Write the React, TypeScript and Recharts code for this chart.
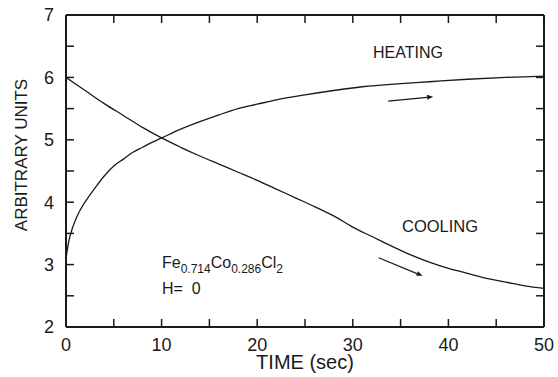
import { LineChart, Line, XAxis, YAxis, ReferenceLine } from "recharts";

const heatingTime = [0, 0.3, 0.6, 1, 1.5, 2.2, 3, 4, 5, 6, 7, 8, 9, 10, 12, 14, 16, 18, 20, 22, 25, 28, 31, 35, 38, 42, 46, 50];
const heatingValue = [3.1, 3.38, 3.55, 3.72, 3.88, 4.05, 4.22, 4.42, 4.58, 4.69, 4.8, 4.88, 4.96, 5.03, 5.17, 5.29, 5.4, 5.5, 5.57, 5.64, 5.72, 5.79, 5.85, 5.9, 5.93, 5.97, 6.0, 6.02];

const coolingTime = [0, 2, 4, 6, 8, 10, 12, 14, 16, 18, 20, 22, 24, 26, 28, 30, 32, 34, 36, 38, 40, 42, 44, 46, 48, 50];
const coolingValue = [6.0, 5.79, 5.58, 5.39, 5.2, 5.03, 4.88, 4.74, 4.61, 4.48, 4.35, 4.21, 4.07, 3.93, 3.78, 3.6, 3.45, 3.3, 3.16, 3.04, 2.94, 2.86, 2.78, 2.72, 2.66, 2.62];

const heatingArrow = [{ x: 33.7, y: 5.62 }, { x: 38.4, y: 5.69 }];
const coolingArrow = [{ x: 32.7, y: 3.11 }, { x: 37.3, y: 2.82 }];

const xTicks = [0, 5, 10, 15, 20, 25, 30, 35, 40, 45, 50];
const yTicks = [2, 2.5, 3, 3.5, 4, 4.5, 5, 5.5, 6, 6.5, 7];

const heating = heatingTime.map((t, i) => ({ t, v: heatingValue[i] }));
const cooling = coolingTime.map((t, i) => ({ t, v: coolingValue[i] }));

const FONT = "'Liberation Sans', Arial, sans-serif";
const INK = "#1a1a1a";

// plot box that the axis sizes below produce
const LEFT = 66;
const RIGHT = 544;
const TOP = 15;
const BOTTOM = 327;
const TICK_LEN = 8;
const sx = (t: number) => LEFT + ((RIGHT - LEFT) * t) / 50;
const sy = (v: number) => BOTTOM - ((BOTTOM - TOP) * (v - 2)) / 5;

const arrowShape = (props: any) => {
  const { x1, y1, x2, y2 } = props;
  const ang = Math.atan2(y2 - y1, x2 - x1);
  const len = 6;
  const w = 2.5;
  const bx = x2 - len * Math.cos(ang);
  const by = y2 - len * Math.sin(ang);
  const px = -Math.sin(ang) * w;
  const py = Math.cos(ang) * w;
  return (
    <g>
      <line x1={x1} y1={y1} x2={bx} y2={by} stroke={INK} strokeWidth={1.3} />
      <polygon points={`${x2},${y2} ${bx + px},${by + py} ${bx - px},${by - py}`} fill={INK} />
    </g>
  );
};

const BottomTick = ({ x, y, payload }: any) =>
  payload.value % 10 === 0 ? (
    <text x={x} y={y} dy="0.75em" textAnchor="middle" fontSize={18} fill={INK} fontFamily={FONT}>
      {payload.value}
    </text>
  ) : (
    <g />
  );

const LeftTick = ({ x, y, payload }: any) =>
  Number.isInteger(payload.value) ? (
    <text x={x} y={y} dy="0.36em" textAnchor="end" fontSize={18} fill={INK} fontFamily={FONT}>
      {payload.value}
    </text>
  ) : (
    <g />
  );

const frame = { stroke: INK, strokeWidth: 2 };

export default function App() {
  return (
    <div style={{ position: "absolute", left: 0, top: 0, width: 558, height: 377, background: "#fff" }}>
      <LineChart width={558} height={377} margin={{ top: 0, right: 0, bottom: 0, left: 0 }}>
        <XAxis
          xAxisId="b"
          type="number"
          dataKey="t"
          domain={[0, 50]}
          ticks={xTicks}
          interval={0}
          height={50}
          tickSize={0}
          tickMargin={10}
          axisLine={frame}
          tickLine={false}
          tick={BottomTick}
          allowDataOverflow
        />
        <XAxis
          xAxisId="t"
          orientation="top"
          type="number"
          domain={[0, 50]}
          height={15}
          axisLine={frame}
          tickLine={false}
          tick={false}
        />
        <YAxis
          yAxisId="l"
          type="number"
          domain={[2, 7]}
          ticks={yTicks}
          interval={0}
          width={66}
          tickSize={0}
          tickMargin={12}
          axisLine={frame}
          tickLine={false}
          tick={LeftTick}
          allowDataOverflow
        />
        <YAxis
          yAxisId="r"
          orientation="right"
          type="number"
          domain={[2, 7]}
          width={14}
          axisLine={frame}
          tickLine={false}
          tick={false}
        />
        <Line
          xAxisId="b"
          yAxisId="l"
          data={heating}
          dataKey="v"
          type="monotone"
          stroke={INK}
          strokeWidth={1.3}
          dot={false}
          isAnimationActive={false}
        />
        <Line
          xAxisId="b"
          yAxisId="l"
          data={cooling}
          dataKey="v"
          type="monotone"
          stroke={INK}
          strokeWidth={1.3}
          dot={false}
          isAnimationActive={false}
        />
        <ReferenceLine xAxisId="b" yAxisId="l" segment={heatingArrow} shape={arrowShape} ifOverflow="visible" />
        <ReferenceLine xAxisId="b" yAxisId="l" segment={coolingArrow} shape={arrowShape} ifOverflow="visible" />
      </LineChart>
      <svg
        width={558}
        height={377}
        style={{ position: "absolute", left: 0, top: 0, pointerEvents: "none" }}
        fontFamily={FONT}
        fill={INK}
      >
        <g stroke={INK} strokeWidth={1.5}>
          {xTicks.map((t) => (
            <g key={`xt-${t}`}>
              <line x1={sx(t)} x2={sx(t)} y1={BOTTOM} y2={BOTTOM - TICK_LEN} />
              <line x1={sx(t)} x2={sx(t)} y1={TOP} y2={TOP + TICK_LEN} />
            </g>
          ))}
          {yTicks.map((v) => (
            <g key={`yt-${v}`}>
              <line x1={LEFT} x2={LEFT + TICK_LEN} y1={sy(v)} y2={sy(v)} />
              <line x1={RIGHT} x2={RIGHT - TICK_LEN} y1={sy(v)} y2={sy(v)} />
            </g>
          ))}
        </g>
        <text x={373} y={58} fontSize={16}>HEATING</text>
        <text x={402} y={232} fontSize={16.5}>COOLING</text>
        <text x={162} y={268} fontSize={16}>
          Fe<tspan fontSize={12} dy={5}>0.714</tspan>
          <tspan dy={-5}>Co</tspan>
          <tspan fontSize={12} dy={5}>0.286</tspan>
          <tspan dy={-5}>Cl</tspan>
          <tspan fontSize={12} dy={5}>2</tspan>
        </text>
        <text x={162} y={294} fontSize={16} style={{ whiteSpace: "pre" }}>H=  0</text>
        <text x={305} y={369} fontSize={20} textAnchor="middle">TIME (sec)</text>
        <text x={21} y={155} fontSize={17} textAnchor="middle" dominantBaseline="central" transform="rotate(-90 21 155)">
          ARBITRARY UNITS
        </text>
      </svg>
    </div>
  );
}
